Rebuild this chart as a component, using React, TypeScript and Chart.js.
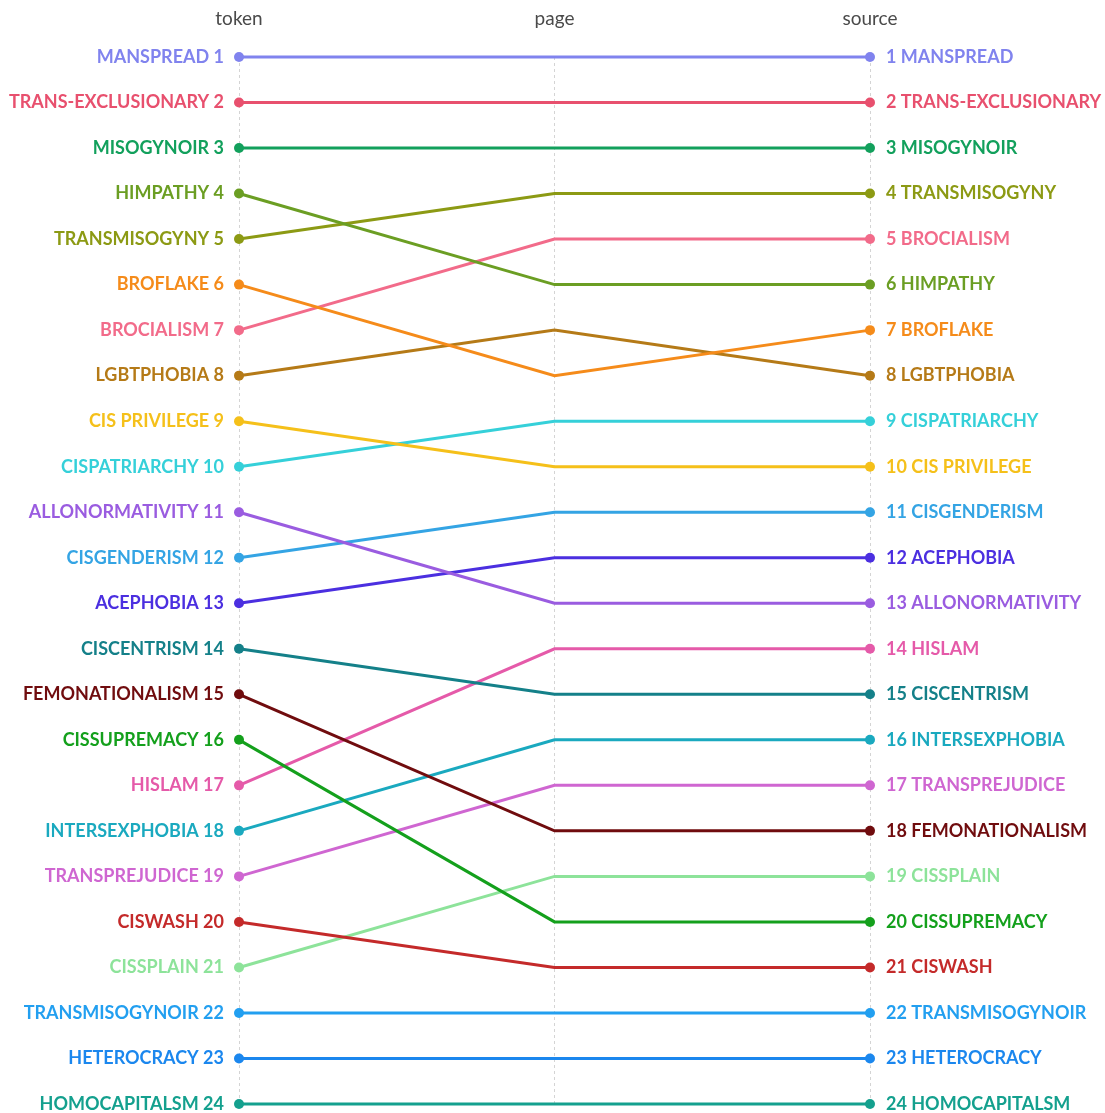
import React, { useEffect, useRef } from "react";
import { Chart, registerables } from "chart.js";

Chart.register(...registerables);

const columns = ["token", "page", "source"];

const terms = [
  "MANSPREAD", "TRANS-EXCLUSIONARY", "MISOGYNOIR", "HIMPATHY", "TRANSMISOGYNY", "BROFLAKE",
  "BROCIALISM", "LGBTPHOBIA", "CIS PRIVILEGE", "CISPATRIARCHY", "ALLONORMATIVITY", "CISGENDERISM",
  "ACEPHOBIA", "CISCENTRISM", "FEMONATIONALISM", "CISSUPREMACY", "HISLAM", "INTERSEXPHOBIA",
  "TRANSPREJUDICE", "CISWASH", "CISSPLAIN", "TRANSMISOGYNOIR", "HETEROCRACY", "HOMOCAPITALSM",
];

const tokenRank = [1, 2, 3, 4, 5, 6, 7, 8, 9, 10, 11, 12, 13, 14, 15, 16, 17, 18, 19, 20, 21, 22, 23, 24];
const pageRank = [1, 2, 3, 6, 4, 8, 5, 7, 10, 9, 13, 11, 12, 15, 18, 20, 14, 16, 17, 21, 19, 22, 23, 24];
const sourceRank = [1, 2, 3, 6, 4, 7, 5, 8, 10, 9, 13, 11, 12, 15, 18, 20, 14, 16, 17, 21, 19, 22, 23, 24];

const colors = [
  "#8083ee", "#e8506e", "#12a05c", "#6b9e23", "#8c9a14", "#f58b1a",
  "#f26b8a", "#b57a17", "#f5c01a", "#35d0d9", "#9a5ce0", "#34a4e4",
  "#4b2fe0", "#148089", "#700c0e", "#14a01c", "#e55aa9", "#1aa9bf",
  "#cf66d1", "#c42a2a", "#8de39a", "#229ff0", "#1b87ee", "#14a08e",
];

const FONT = "Lato, 'Noto Sans', sans-serif";

function termAt(ranks: number[], rank: number): number {
  return ranks.indexOf(rank);
}

export default function App() {
  const ref = useRef<HTMLCanvasElement | null>(null);

  useEffect(() => {
    document.body.style.margin = "0";
    const canvas = ref.current;
    if (!canvas) return;

    const datasets = terms.map((t, i) => ({
      label: t,
      data: [tokenRank[i], pageRank[i], sourceRank[i]],
      borderColor: colors[i],
      backgroundColor: colors[i],
      borderWidth: 3,
      pointRadius: [5, 0, 5],
      pointBorderWidth: 0,
      tension: 0,
      clip: false,
      yAxisID: "y",
    }));

    const zeroPad = (s: any) => {
      s.paddingTop = 0;
      s.paddingBottom = 0;
    };

    const chart = new Chart(canvas, {
      type: "line",
      data: { labels: columns, datasets },
      options: {
        animation: false,
        responsive: false,
        devicePixelRatio: 1,
        events: [],
        layout: { padding: { top: 0, bottom: 9, left: 0, right: 0 } },
        plugins: { legend: { display: false }, tooltip: { enabled: false } },
        scales: {
          x: {
            type: "category",
            position: "top",
            offset: false,
            grid: { color: "#d4d4d4", lineWidth: 1, drawTicks: false },
            border: { display: false, dash: [3, 3] },
            ticks: {
              color: "#4a4a4a",
              font: { family: FONT, size: 19 },
              padding: 27,
            },
            afterFit: (s: any) => {
              s.height = 57;
            },
          },
          y: {
            type: "linear",
            position: "left",
            reverse: true,
            min: 1,
            max: 24,
            grid: { display: false, drawTicks: false },
            border: { display: false },
            ticks: {
              stepSize: 1,
              autoSkip: false,
              padding: 15,
              font: { family: FONT, size: 18, weight: "bold" },
              color: (ctx: any) => colors[termAt(tokenRank, ctx.tick.value)] || "#000",
              callback: (v: any) => {
                const i = termAt(tokenRank, v);
                return i >= 0 ? `${terms[i]} ${v}` : "";
              },
            },
            afterFit: (s: any) => {
              s.width = 239;
              zeroPad(s);
            },
          },
          y2: {
            type: "linear",
            position: "right",
            reverse: true,
            min: 1,
            max: 24,
            grid: { display: false, drawTicks: false },
            border: { display: false },
            ticks: {
              stepSize: 1,
              autoSkip: false,
              padding: 16,
              font: { family: FONT, size: 18, weight: "bold" },
              color: (ctx: any) => colors[termAt(sourceRank, ctx.tick.value)] || "#000",
              callback: (v: any) => {
                const i = termAt(sourceRank, v);
                return i >= 0 ? `${v} ${terms[i]}` : "";
              },
            },
            afterFit: (s: any) => {
              s.width = 235;
              zeroPad(s);
            },
          },
        },
      } as any,
    });

    return () => chart.destroy();
  }, []);

  return (
    <canvas
      ref={ref}
      width={1105}
      height={1113}
      style={{ display: "block", width: 1105, height: 1113 }}
    />
  );
}
